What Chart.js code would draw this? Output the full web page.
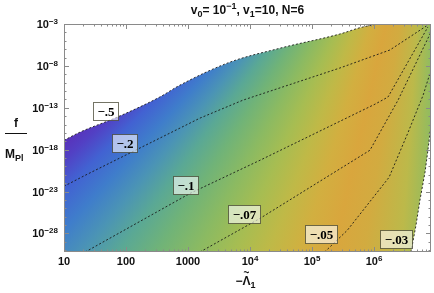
<!DOCTYPE html>
<html>
<head>
<meta charset="utf-8">
<title>f / M_Pl against -Lambda_1</title>
<script src="https://cdn.jsdelivr.net/npm/chart.js@4.4.1/dist/chart.umd.min.js"></script>
<style>
    html, body { margin: 0; padding: 0; background: #ffffff; }
    canvas { display: block; }
</style>
</head>
<body>
<canvas id="contourChart" width="434" height="293"></canvas>
<script>
// axis ranges (log-log)
const X_MIN = 10, X_MAX = 8.3e6;
const Y_MIN = 6e-31, Y_MAX = 1e-3;

// tick labels
const xTicks = [10, 100, 1000, 1e4, 1e5, 1e6];
const xTickBase = ['10', '100', '1000', '10', '10', '10'];
const xTickExp = ['', '', '', '4', '5', '6'];
const yTicks = [1e-3, 1e-8, 1e-13, 1e-18, 1e-23, 1e-28];
const yTickExp = ['\u22123', '\u22128', '\u221213', '\u221218', '\u221223', '\u221228'];

// contour levels
const levelNames = ['\u2212.5', '\u2212.2', '\u2212.1', '\u2212.07', '\u2212.05', '\u2212.03'];
// -.5 is also the upper edge of the shaded region
const c05X = [10, 18, 72, 350, 740, 4750, 30500, 2.8e5, 6.6e5, 1.4e6, 8.3e6];
const c05Y = [1.3e-17, 1.2e-16, 7.6e-15, 1.9e-12, 5.0e-11, 2.8e-8, 1.3e-6, 6.3e-5, 4.4e-4, 1e-3, 1e-3];
const c02X = [10, 22, 1560, 7700, 2.8e5, 1.8e6, 7.4e6];
const c02Y = [4.2e-23, 8.7e-22, 5.8e-15, 8.1e-13, 5.5e-9, 7.8e-7, 7.6e-4];
const c01X = [22, 1080, 14500, 1.04e6, 1.68e6, 7.4e6];
const c01Y = [6e-31, 6.0e-24, 5.4e-20, 2.7e-13, 1.9e-12, 4.4e-4];
const c007X = [1560, 14500, 8.6e5, 2.44e6, 8.3e6];
const c007Y = [6e-31, 6.2e-27, 8.5e-19, 8.1e-13, 1.1e-4];
const c005X = [1.6e5, 3.7e5, 1.75e6, 3.5e6, 6.2e6, 8.3e6];
const c005Y = [6e-31, 2.3e-28, 5.0e-22, 9.1e-17, 3.2e-12, 3.2e-9];
// -.03 is also the right edge of the shaded region
const c003X = [3.95e6, 4.75e6, 5.5e6, 6.65e6, 7.4e6, 8.3e6];
const c003Y = [6e-31, 9.1e-28, 8.9e-25, 2.0e-21, 8.5e-19, 8.3e-16];

// where the contour labels sit
const labelX = [46, 96, 895, 8000, 1.4e5, 2.26e6];
const labelY = [3.9e-14, 5.9e-18, 5.5e-23, 1.9e-26, 7.6e-29, 1.9e-29];

const SANS = '"Liberation Sans", Arial, sans-serif';
const SERIF = '"Liberation Serif", "Times New Roman", serif';

// colour fan of the density shading (angle in degrees -> colour)
const fanAngle = [80, 87, 90, 94, 99, 103, 107, 111, 115, 119, 123, 126.5, 129.5, 132.5, 135.5, 138, 140.5, 150];
const fanColor = ['#58ac8c', '#62b084', '#90bc60', '#bcb94a', '#d2ab40', '#d9a63d', '#d2af40', '#bfb947',
    '#a6bd52', '#8bba62', '#70b378', '#5aa895', '#4b94b5', '#3f7dcb', '#4262d2', '#5240c4', '#5c2ab5', '#5c2ab5'];

function toPoints(xs, ys) {
    return xs.map((v, i) => ({ x: v, y: ys[i] }));
}

function fanFill(context) {
    const chart = context.chart;
    const a = chart.chartArea;
    if (!a) return 'rgba(0,0,0,0)';
    const h = a.bottom - a.top;
    const start = fanAngle[0] * Math.PI / 180;
    const g = chart.ctx.createConicGradient(start, a.right, a.top - 0.855 * h);
    fanAngle.forEach((ang, i) => g.addColorStop((ang - fanAngle[0]) / 360, fanColor[i]));
    return g;
}

function contourLine(label, xs, ys, smooth) {
    return {
        label: label,
        data: toPoints(xs, ys),
        borderColor: 'rgba(20,20,20,0.85)',
        backgroundColor: 'rgba(0,0,0,0)',
        borderWidth: 1,
        borderDash: [2, 2],
        pointRadius: 0,
        fill: false,
        cubicInterpolationMode: smooth ? 'monotone' : 'default',
        order: 0
    };
}

// draws sub/superscript text piece by piece
function richText(ctx, parts, x, y, align) {
    let total = 0;
    parts.forEach(p => {
        ctx.font = 'bold ' + p[1] + 'px ' + SANS;
        total += ctx.measureText(p[0]).width;
    });
    let cx = align === 'center' ? x - total / 2 : (align === 'right' ? x - total : x);
    ctx.textAlign = 'left';
    ctx.textBaseline = 'alphabetic';
    parts.forEach(p => {
        ctx.font = 'bold ' + p[1] + 'px ' + SANS;
        ctx.fillText(p[0], cx, y + (p[2] || 0));
        cx += ctx.measureText(p[0]).width;
    });
    return cx;
}

const contourLabels = {
    id: 'contourLabels',
    afterDatasetsDraw(chart) {
        const { ctx, scales: { x, y } } = chart;
        ctx.save();
        ctx.font = 'bold 13px ' + SERIF;
        ctx.textAlign = 'center';
        ctx.textBaseline = 'middle';
        levelNames.forEach((t, i) => {
            const px = x.getPixelForValue(labelX[i]);
            const py = y.getPixelForValue(labelY[i]);
            const w = Math.round(ctx.measureText(t).width + 8), h = 18;
            const l = Math.round(px - w / 2) + 0.5, tp = Math.round(py - h / 2) + 0.5;
            ctx.fillStyle = 'rgba(255,255,255,0.6)';
            ctx.fillRect(l, tp, w, h);
            ctx.strokeStyle = 'rgba(70,70,50,0.75)';
            ctx.lineWidth = 1;
            ctx.strokeRect(l, tp, w, h);
            ctx.fillStyle = '#000';
            ctx.fillText(t, l + w / 2, tp + h / 2 + 1);
        });
        ctx.restore();
    }
};

const framePlugin = {
    id: 'frame',
    afterDraw(chart) {
        const { ctx, chartArea: a, scales: { x, y } } = chart;
        ctx.save();
        ctx.strokeStyle = '#8a8a8a';
        ctx.lineWidth = 1;
        ctx.strokeRect(a.left + 0.5, a.top + 0.5, a.right - a.left - 1, a.bottom - a.top - 1);

        ctx.beginPath();
        for (let e = 1; e <= 6; e++) {
            for (let m = 1; m <= 9; m++) {
                const v = m * Math.pow(10, e);
                if (v > X_MAX) break;
                const px = Math.round(x.getPixelForValue(v)) + 0.5;
                const len = m === 1 ? 5 : 2.5;
                ctx.moveTo(px, a.bottom); ctx.lineTo(px, a.bottom - len);
                ctx.moveTo(px, a.top); ctx.lineTo(px, a.top + len);
            }
        }
        for (let e = -30; e <= -3; e++) {
            const py = Math.round(y.getPixelForValue(Math.pow(10, e))) + 0.5;
            const len = (e + 3) % 5 === 0 ? 5 : 2.5;
            ctx.moveTo(a.left, py); ctx.lineTo(a.left + len, py);
            ctx.moveTo(a.right, py); ctx.lineTo(a.right - len, py);
        }
        ctx.stroke();

        ctx.fillStyle = '#111';
        xTicks.forEach((v, i) => {
            const px = x.getPixelForValue(v);
            const parts = [[xTickBase[i], 11]];
            if (xTickExp[i]) parts.push([xTickExp[i], 8, -4]);
            richText(ctx, parts, px, a.bottom + 13, 'center');
        });
        yTicks.forEach((v, i) => {
            const py = y.getPixelForValue(v);
            richText(ctx, [['10', 11], [yTickExp[i], 8, -4]], a.left - 6, py + 4, 'right');
        });

        // title
        const mid = (a.left + a.right) / 2;
        richText(ctx, [['v', 12], ['0', 9, 3], ['= 10', 12], ['\u22121', 9, -5],
            [', v', 12], ['1', 9, 3], ['=10, N=6', 12]], mid, 14, 'center');

        // x axis title: -Lambda~_1
        ctx.font = 'bold 12px ' + SANS;
        const lamW = ctx.measureText('\u039B').width;
        const after = richText(ctx, [['\u2212', 12], ['\u039B', 12], ['1', 9, 3]], mid - 2, 285, 'center');
        ctx.font = 'bold 9px ' + SANS;
        const lamX = after - ctx.measureText('1').width - lamW / 2;
        ctx.font = 'bold 10px ' + SANS;
        ctx.textAlign = 'center';
        ctx.textBaseline = 'middle';
        ctx.fillText('~', lamX, 273.5);

        // y axis title: f / M_Pl
        ctx.textBaseline = 'alphabetic';
        ctx.font = 'bold 12px ' + SANS;
        ctx.fillText('f', 16, 127);
        ctx.strokeStyle = '#111';
        ctx.beginPath();
        ctx.moveTo(5, 133.5); ctx.lineTo(27, 133.5);
        ctx.stroke();
        richText(ctx, [['M', 12], ['Pl', 9, 3]], 5, 158, 'left');
        ctx.restore();
    }
};

const ctx = document.getElementById('contourChart').getContext('2d');

new Chart(ctx, {
    type: 'line',
    data: {
        datasets: [
            contourLine(levelNames[0], c05X, c05Y, true),
            contourLine(levelNames[1], c02X, c02Y),
            contourLine(levelNames[2], c01X, c01Y),
            contourLine(levelNames[3], c007X, c007Y),
            contourLine(levelNames[4], c005X, c005Y),
            contourLine(levelNames[5], c003X, c003Y),
            {
                // blank corner right of the -.03 edge
                label: 'outside',
                data: toPoints(c003X, c003Y),
                borderWidth: 0,
                pointRadius: 0,
                backgroundColor: '#ffffff',
                fill: 'start',
                order: 1
            },
            {
                label: 'region',
                data: toPoints(c05X, c05Y),
                borderWidth: 0,
                pointRadius: 0,
                backgroundColor: fanFill,
                fill: 'start',
                cubicInterpolationMode: 'monotone',
                order: 4
            }
        ]
    },
    options: {
        responsive: false,
        animation: false,
        devicePixelRatio: 1,
        events: [],
        layout: { padding: { left: 64, top: 24, right: 3, bottom: 41 } },
        scales: {
            x: { type: 'logarithmic', min: X_MIN, max: X_MAX, display: false },
            y: { type: 'logarithmic', min: Y_MIN, max: Y_MAX, display: false }
        },
        plugins: {
            legend: { display: false },
            tooltip: { enabled: false },
            title: { display: false },
            colors: { enabled: false },
            filler: { propagate: false }
        }
    },
    plugins: [contourLabels, framePlugin]
});
</script>
</body>
</html>
